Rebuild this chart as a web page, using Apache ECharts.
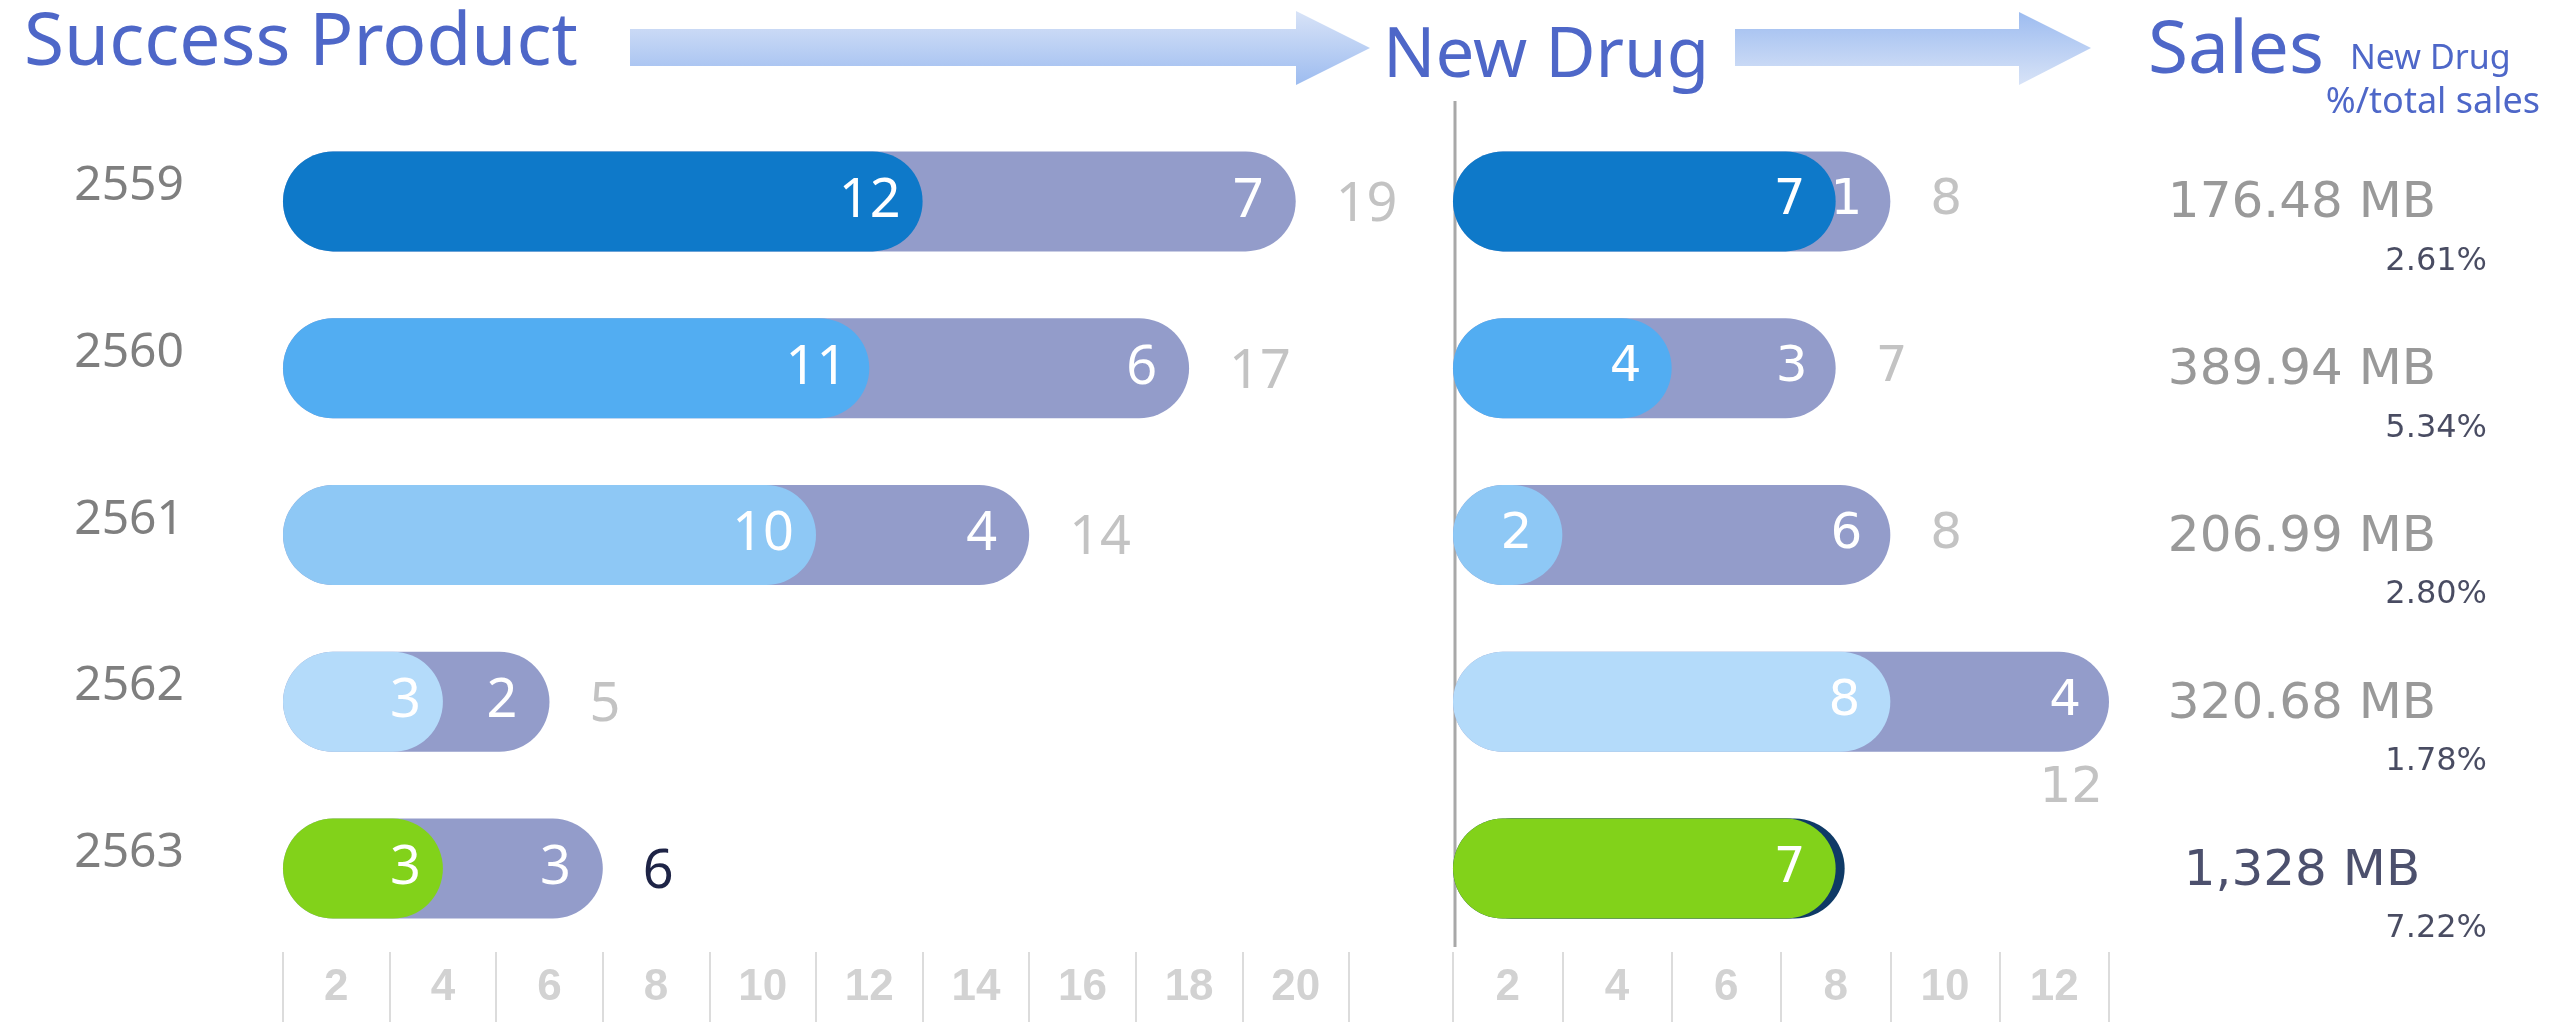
<!DOCTYPE html>
<html><head><meta charset="utf-8">
<script src="https://cdn.jsdelivr.net/npm/echarts@6/dist/echarts.min.js"></script>
<style>html,body{margin:0;padding:0;background:#fff}#c{width:2552px;height:1022px}</style>
</head><body><div id="c"></div>
<script>
// ---- data ----
const years = ['2559', '2560', '2561', '2562', '2563'];
const successFront = [12, 11, 10, 3, 3];
const successSecond = [7, 6, 4, 2, 3];
const successTotal = [19, 17, 14, 5, 6];
const drugFront = [7, 4, 2, 8, 7];
const drugSecond = [1, 3, 6, 4, 0];
const drugTotal = [8, 7, 8, 12, 7];
const salesMB = ['176.48 MB', '389.94 MB', '206.99 MB', '320.68 MB', '1,328 MB'];
const salesPct = ['2.61%', '5.34%', '2.80%', '1.78%', '7.22%'];
const leftTicks = ['2', '4', '6', '8', '10', '12', '14', '16', '18', '20'];
const rightTicks = ['2', '4', '6', '8', '10', '12'];

// ---- styles ----
const rowColors = ['#0e79c9', '#52adf2', '#8ec8f5', '#b4dbfa', '#82d21a'];
const purple = '#939cca';
const navy = '#0f3a66';
const titleBlue = '#4e67c8';
const F = '"Noto Sans", sans-serif';
const FR = '"DejaVu Sans", sans-serif';
const FT = '"Liberation Sans Narrow", "Liberation Sans", sans-serif';

const chart = echarts.init(document.getElementById('c'));

function tickAxis(gi, data) {
  return {
    gridIndex: gi, type: 'category', data: data, position: 'bottom', boundaryGap: true,
    axisLine: { show: false },
    axisTick: { show: true, length: 70, interval: 0, alignWithLabel: false, lineStyle: { color: '#dcdcdc', width: 2 } },
    axisLabel: { interval: 0, margin: 14, fontSize: 44, fontWeight: 'bold', color: '#d2d2d2', fontFamily: FT },
    splitLine: { show: false }
  };
}

const common = { type: 'bar', barWidth: 100, barGap: '-100%', silent: true, animation: false };

const series = [
  // left: back bars (totals)
  Object.assign({}, common, {
    xAxisIndex: 0, yAxisIndex: 0,
    data: successTotal.map((v, i) => ({
      value: v,
      label: i === 4 ? { color: '#1e2446' } : undefined
    })),
    itemStyle: { color: purple, borderRadius: 50 },
    label: { show: true, position: 'right', distance: 40, fontSize: 54, color: '#c3c3c3', fontFamily: F, offset: [0, 4] }
  }),
  // left: front bars
  Object.assign({}, common, {
    xAxisIndex: 0, yAxisIndex: 0,
    data: successFront.map((v, i) => ({ value: v, itemStyle: { color: rowColors[i] } })),
    itemStyle: { borderRadius: 50 },
    label: { show: true, position: 'insideRight', distance: 22, fontSize: 54, color: '#fff', fontFamily: F }
  }),
  // left: second-value labels
  Object.assign({}, common, {
    xAxisIndex: 0, yAxisIndex: 0,
    data: successTotal,
    itemStyle: { color: 'rgba(0,0,0,0)' },
    label: { show: true, position: 'insideRight', distance: 32, fontSize: 54, color: '#fff', fontFamily: F,
      formatter: p => successSecond[p.dataIndex] }
  }),
  // right: back bars
  Object.assign({}, common, {
    xAxisIndex: 1, yAxisIndex: 1,
    data: drugTotal.map((v, i) => {
      const d = { value: v };
      if (i === 3) d.label = { position: ['100%', '100%'], align: 'right', verticalAlign: 'top', offset: [-6, 12] };
      if (i === 4) { d.label = { show: false }; d.itemStyle = { color: navy }; }
      return d;
    }),
    itemStyle: { color: purple, borderRadius: 50 },
    label: { show: true, position: 'right', distance: 40, fontSize: 50, color: '#c3c3c3', fontFamily: FR }
  }),
  // right: front bars
  Object.assign({}, common, {
    xAxisIndex: 1, yAxisIndex: 1,
    data: drugFront.map((v, i) => ({
      value: v,
      itemStyle: i === 4 ? { color: rowColors[i], shadowColor: navy, shadowOffsetX: 9, shadowBlur: 0 } : { color: rowColors[i] }
    })),
    itemStyle: { borderRadius: 50 },
    label: { show: true, position: 'insideRight', distance: 30, fontSize: 50, color: '#fff', fontFamily: FR }
  }),
  // right: second-value labels
  Object.assign({}, common, {
    xAxisIndex: 1, yAxisIndex: 1,
    data: drugTotal,
    itemStyle: { color: 'rgba(0,0,0,0)' },
    label: { show: true, position: 'insideRight', distance: 28, fontSize: 50, color: '#fff', fontFamily: FR,
      formatter: p => (drugSecond[p.dataIndex] ? drugSecond[p.dataIndex] : '') }
  }),
  // sales MB
  {
    type: 'scatter', xAxisIndex: 2, yAxisIndex: 2, silent: true, animation: false,
    symbolSize: 1, itemStyle: { color: 'rgba(0,0,0,0)' },
    data: years.map((y, i) => ({
      value: [162, i],
      label: { color: i === 4 ? '#1f2448' : '#808080' }
    })),
    label: { show: true, position: 'inside', fontSize: 50, fontFamily: FR, offset: [0, 3],
      formatter: p => salesMB[p.dataIndex] }
  },
  // sales pct
  {
    type: 'scatter', xAxisIndex: 2, yAxisIndex: 2, silent: true, animation: false,
    symbolSize: 1, itemStyle: { color: 'rgba(0,0,0,0)' },
    data: years.map((y, i) => [347, i]),
    label: { show: true, position: 'inside', align: 'right', fontSize: 32, fontFamily: FR, color: '#1b1f3b', offset: [0, 60],
      formatter: p => salesPct[p.dataIndex] }
  }
];

const arrowGradDown = { type: 'linear', x: 0, y: 0, x2: 0, y2: 1, colorStops: [{ offset: 0, color: '#d8e3f7' }, { offset: 1, color: '#9dbcf0' }] };
const arrowGradUp = { type: 'linear', x: 0, y: 0, x2: 0, y2: 1, colorStops: [{ offset: 0, color: '#9dbcf0' }, { offset: 1, color: '#d8e3f7' }] };

const option = {
  backgroundColor: '#fff',
  animation: false,
  grid: [
    { left: 283, top: 118, width: 1066, height: 834 },
    { left: 1453, top: 118, width: 656, height: 834 },
    { left: 2140, top: 118, width: 400, height: 834 }
  ],
  xAxis: [
    { gridIndex: 0, type: 'value', min: 0, max: 20, show: false },
    { gridIndex: 1, type: 'value', min: 0, max: 12, show: false },
    { gridIndex: 2, type: 'value', min: 0, max: 400, show: false },
    tickAxis(0, leftTicks),
    tickAxis(1, rightTicks)
  ],
  yAxis: [
    { gridIndex: 0, type: 'category', data: years, inverse: true,
      axisLine: { show: false }, axisTick: { show: false }, splitLine: { show: false },
      axisLabel: { margin: 99, fontSize: 48, color: '#7f7f7f', fontFamily: F, verticalAlign: 'bottom', lineHeight: 30 } },
    { gridIndex: 1, type: 'category', data: years, inverse: true, show: false },
    { gridIndex: 2, type: 'category', data: years, inverse: true, show: false }
  ],
  series: series,
  graphic: [
    { type: 'polygon', shape: { points: [[630, 29], [1296, 29], [1296, 11], [1370, 48], [1296, 85], [1296, 66], [630, 66]] }, style: { fill: arrowGradDown } },
    { type: 'polygon', shape: { points: [[1735, 29], [2019, 29], [2019, 12], [2091, 48], [2019, 85], [2019, 66], [1735, 66]] }, style: { fill: arrowGradUp } },
    { type: 'text', x: 24, y: 44, style: { text: 'Success Product', fontSize: 73, fontFamily: F, fill: titleBlue, align: 'left', verticalAlign: 'middle' } },
    { type: 'text', x: 1383, y: 57, style: { text: 'New Drug', fontSize: 69, fontFamily: F, fill: titleBlue, align: 'left', verticalAlign: 'middle' } },
    { type: 'text', x: 2148, y: 52, style: { text: 'Sales', fontSize: 73, fontFamily: F, fill: titleBlue, align: 'left', verticalAlign: 'middle' } },
    { type: 'text', x: 2350, y: 59, style: { text: 'New Drug', fontSize: 34, fontFamily: F, fill: titleBlue, align: 'left', verticalAlign: 'middle' } },
    { type: 'text', x: 2540, y: 103, style: { text: '%/total sales', fontSize: 36, fontFamily: F, fill: titleBlue, align: 'right', verticalAlign: 'middle' } },
    { type: 'line', shape: { x1: 1455, y1: 101, x2: 1455, y2: 947 }, style: { stroke: '#a8a8a8', lineWidth: 3 } }
  ]
};
chart.setOption(option);
</script>
</body></html>
